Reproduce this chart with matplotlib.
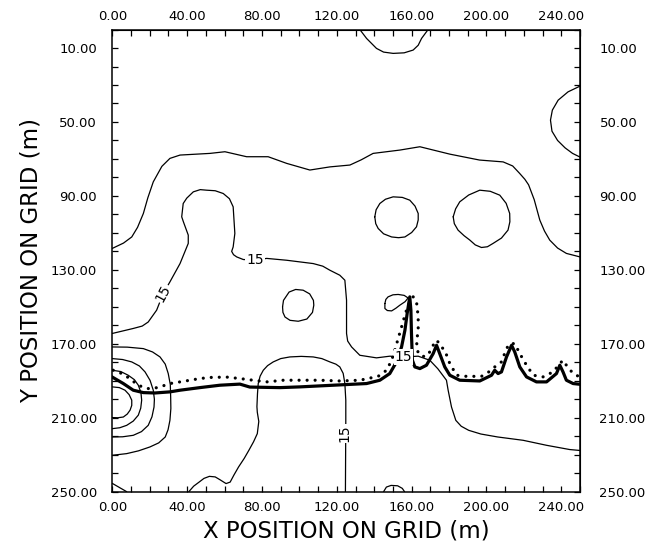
import matplotlib.pyplot as plt
from matplotlib.ticker import FixedLocator, MultipleLocator, FormatStrFormatter

x_ticks = [0, 40, 80, 120, 160, 200, 240]
y_ticks = [10, 50, 90, 130, 170, 210, 250]

# contour lines (x, y in m)
top_dip_x = [132.3, 135.9, 141.2, 145.0, 150.1, 156.0, 160.8, 163.5, 165.3, 168.8]
top_dip_y = [0.0, 4.8, 10.2, 12.2, 12.9, 12.6, 11.1, 8.5, 4.8, 0.0]

right_arc_x = [250.0, 243.6, 238.3, 235.2, 234.2, 235.0, 238.0, 242.0, 246.0, 250.0]
right_arc_y = [30.6, 33.7, 38.2, 43.6, 49.0, 55.0, 60.0, 64.0, 67.0, 69.0]

upper_x = [0.0, 6.0, 10.4, 13.5, 16.6, 19.0, 21.9, 26.5, 30.8, 36.2, 52.2, 60.2, 71.8,
           83.3, 93.2, 105.6, 116.3, 127.0, 133.0, 139.4, 153.7, 164.4, 180.4, 196.3,
           208.9, 214.0, 217.7, 220.5, 222.5, 225.5, 228.5, 231.0, 233.8, 238.0, 242.7,
           250.0]
upper_y = [118.4, 115.5, 112.2, 107.0, 99.5, 91.0, 82.4, 74.0, 69.7, 67.9, 67.0, 66.1,
           68.8, 68.8, 72.4, 76.0, 74.3, 73.3, 70.5, 67.0, 65.2, 63.4, 67.4, 70.6, 71.6,
           73.8, 77.8, 81.0, 84.0, 92.0, 103.1, 109.0, 113.9, 118.2, 121.1, 123.0]

mid_x = [0.0, 11.2, 16.0, 19.2, 23.7, 27.2, 30.8, 36.2, 40.6, 40.6, 38.0, 37.1, 37.9,
         39.8, 43.3, 47.0, 50.4, 55.0, 59.3, 62.6, 64.6, 65.5, 64.6, 63.8, 64.8, 66.5,
         70.0, 76.2, 82.5, 93.2, 100.3, 107.4, 112.5, 116.3, 121.6, 124.3, 125.2, 125.2,
         125.8, 127.9, 132.3, 141.2, 148.3, 155.5, 163.5, 169.7, 174.0, 178.6, 179.5,
         181.3, 183.6, 186.5, 190.5, 197.0, 206.0, 219.6, 232.1, 244.5, 250.0]
mid_y = [164.4, 161.7, 160.4, 158.2, 151.8, 142.8, 136.5, 126.6, 115.7, 111.2, 104.0,
         101.3, 94.1, 91.2, 87.8, 86.6, 86.9, 87.2, 88.7, 91.5, 95.9, 110.3, 117.6, 120.0,
         121.8, 123.0, 124.4, 124.8, 123.8, 124.8, 125.7, 126.6, 128.0, 130.2, 132.9,
         135.6, 146.4, 164.4, 168.5, 171.7, 176.2, 177.6, 176.7, 177.1, 176.7, 178.9,
         183.5, 189.7, 195.1, 204.2, 211.4, 214.6, 216.8, 218.8, 220.4, 222.2, 224.9,
         227.2, 227.7]

loop1_x = [91.0, 91.5, 94.5, 98.0, 102.0, 105.5, 107.5, 107.7, 107.0, 104.0, 99.4, 95.0,
           92.3, 91.2, 91.0]
loop1_y = [150.0, 146.5, 142.0, 140.6, 141.0, 143.0, 146.5, 149.1, 153.0, 156.6, 157.8,
           157.3, 155.5, 153.0, 150.0]

loop2_x = [140.3, 141.0, 143.0, 146.0, 150.1, 155.0, 159.0, 161.8, 163.5, 163.5, 162.6,
           160.0, 156.4, 153.0, 149.3, 145.0, 142.1, 140.8, 140.3]
loop2_y = [101.3, 97.5, 94.1, 91.8, 90.5, 90.8, 92.3, 95.5, 99.5, 103.0, 106.7, 109.8,
           112.2, 112.6, 112.2, 110.5, 107.6, 105.0, 101.3]

loop3_x = [182.2, 183.5, 185.7, 190.5, 196.4, 202.0, 207.1, 210.5, 212.4, 212.5, 211.5,
           208.0, 203.5, 200.5, 197.3, 194.0, 191.1, 188.0, 184.8, 182.8, 182.2]
loop3_y = [101.3, 97.0, 93.2, 89.5, 86.9, 87.5, 89.6, 94.0, 99.5, 104.0, 108.5, 112.8,
           115.7, 117.5, 117.9, 116.5, 113.9, 111.5, 108.5, 105.0, 101.3]

loop4_x = [145.7, 146.2, 147.4, 150.0, 152.8, 156.0, 158.1, 156.5, 153.7, 151.5, 149.3,
           147.0, 145.7, 145.7]
loop4_y = [148.2, 146.0, 144.6, 143.5, 143.3, 143.8, 145.2, 147.2, 149.1, 150.8, 152.2,
           152.0, 150.9, 148.2]

ring1_x = [0.0, 8.0, 16.6, 21.5, 25.5, 28.3, 29.9, 31.0, 31.2, 31.3, 30.8, 29.8, 28.3,
           24.8, 20.1, 14.0, 7.7, 0.0]
ring1_y = [171.7, 171.8, 172.6, 174.4, 177.1, 181.0, 186.1, 192.0, 198.8, 205.0, 211.4,
           216.5, 220.4, 223.6, 225.8, 227.9, 229.4, 230.3]
ring2_x = [0.0, 5.5, 10.4, 14.5, 17.5, 20.2, 21.9, 22.5, 22.3, 21.2, 19.2, 15.6, 11.2,
           5.5, 0.0]
ring2_y = [178.0, 178.5, 179.8, 182.0, 185.2, 189.8, 195.1, 200.0, 204.2, 209.5, 214.1,
           217.5, 219.5, 220.3, 220.4]
ring3_x = [0.0, 4.5, 8.5, 11.8, 13.9, 15.3, 15.7, 15.2, 13.9, 11.2, 7.7, 4.0, 0.0]
ring3_y = [184.3, 185.0, 187.0, 189.4, 192.4, 196.3, 200.5, 204.8, 208.6, 211.8, 214.1,
           215.4, 215.9]
ring4_x = [0.0, 3.8, 6.8, 9.0, 10.4, 10.4, 9.5, 8.0, 5.9, 3.0, 0.0]
ring4_y = [193.3, 193.7, 195.1, 197.5, 200.5, 203.3, 205.9, 208.0, 209.6, 210.0, 209.9]

corner_x = [0.0, 7.7]
corner_y = [245.5, 250.0]

lower_x = [40.9, 43.5, 46.4, 49.0, 51.9, 55.0, 57.5, 60.8, 63.0, 65.0, 67.5, 70.5, 73.0,
           75.5, 77.5, 78.3, 77.5, 77.3, 77.6, 78.0, 79.0, 80.7, 83.0, 86.0, 90.0, 94.9,
           101.0, 107.4, 112.0, 116.3, 119.5, 121.6, 123.4, 124.3, 124.8, 124.8, 124.6]
lower_y = [250.0, 247.0, 244.8, 242.8, 241.7, 242.0, 243.5, 245.6, 244.8, 241.0, 236.6,
           232.0, 227.6, 223.0, 218.6, 212.0, 207.0, 204.0, 197.0, 191.5, 187.5, 184.3,
           181.8, 179.8, 178.0, 177.1, 176.8, 177.1, 178.0, 179.8, 181.0, 182.5, 186.0,
           191.5, 200.5, 211.4, 250.0]

dome_x = [145.0, 146.5, 149.0, 152.5, 155.0, 156.2]
dome_y = [250.0, 247.5, 246.6, 246.8, 248.2, 250.0]

# bold solid curve
solid_x = [0.0, 5.9, 11.2, 16.6, 22.8, 30.8, 36.2, 46.8, 57.5, 68.2, 73.5, 89.6, 100.3,
           118.1, 135.9, 143.0, 148.3, 151.9, 154.6, 156.4, 157.6, 159.0, 159.6, 159.9,
           160.4, 161.7, 164.4, 167.9, 171.5, 173.3, 175.0, 177.7, 180.4, 185.7, 196.4,
           202.7, 204.4, 206.2, 208.0, 210.7, 213.4, 215.1, 217.8, 221.4, 226.7, 232.1,
           237.4, 239.2, 240.9, 242.7, 246.3, 250.0]
solid_y = [188.0, 191.5, 195.1, 196.4, 196.6, 196.0, 195.1, 193.7, 192.4, 191.8, 193.4,
           193.7, 193.3, 192.4, 191.5, 189.7, 186.1, 179.8, 171.7, 162.7, 153.6, 144.6,
           151.8, 164.4, 178.9, 182.5, 183.4, 181.6, 175.3, 170.8, 175.3, 182.5, 187.0,
           189.7, 190.1, 187.0, 184.3, 186.1, 185.2, 177.1, 170.8, 174.4, 182.5, 187.9,
           190.6, 190.6, 186.1, 181.6, 185.2, 189.7, 191.5, 191.9]

# dotted curve
dot_x = [0.5, 3.2, 6.8, 10.4, 13.9, 18.4, 21.9, 26.4, 30.8, 36.2, 41.5, 46.8, 52.2, 61.1,
         68.2, 75.3, 82.5, 91.4, 100.3, 111.0, 121.6, 132.3, 142.1, 146.6, 149.3, 151.0,
         152.8, 154.6, 156.4, 158.1, 160.8, 162.6, 163.5, 163.5, 162.6, 163.5, 167.0,
         169.7, 172.4, 173.6, 175.0, 177.7, 180.4, 184.0, 189.3, 197.3, 202.7, 205.3,
         208.0, 210.7, 212.4, 215.1, 217.8, 221.4, 225.0, 230.2, 235.6, 239.2, 240.9,
         242.7, 246.3, 249.8]
dot_y = [184.3, 185.2, 187.0, 189.7, 192.4, 194.2, 194.2, 193.0, 191.5, 190.6, 189.7,
         188.8, 188.2, 188.0, 188.8, 189.7, 190.6, 189.7, 189.7, 189.7, 190.1, 189.7,
         187.6, 184.3, 178.9, 173.5, 167.1, 160.9, 154.5, 149.1, 144.6, 147.3, 155.5,
         162.7, 169.0, 175.3, 177.1, 174.4, 169.0, 168.1, 170.8, 173.5, 180.7, 187.0,
         187.6, 187.6, 184.3, 181.6, 179.8, 172.6, 169.9, 169.9, 175.3, 181.6, 187.0,
         187.9, 185.2, 180.7, 178.9, 181.6, 186.1, 187.9]

# "15" labels: x, y, rotation
label_x = [27.2, 76.2, 155.5, 124.3]
label_y = [142.8, 124.8, 177.1, 218.4]
label_rot = [62, 0, 0, 90]

fig = plt.figure(figsize=(6.51, 5.45), dpi=100)
ax = fig.add_axes([0.1725, 0.0978, 0.7185, 0.848])

thin = [(top_dip_x, top_dip_y), (right_arc_x, right_arc_y), (upper_x, upper_y),
        (mid_x, mid_y), (loop1_x, loop1_y), (loop2_x, loop2_y), (loop3_x, loop3_y),
        (loop4_x, loop4_y), (ring1_x, ring1_y), (ring2_x, ring2_y), (ring3_x, ring3_y),
        (ring4_x, ring4_y), (corner_x, corner_y), (lower_x, lower_y), (dome_x, dome_y)]
for xs, ys in thin:
    ax.plot(xs, ys, color='black', lw=0.9, solid_joinstyle='round', solid_capstyle='round')

ax.plot(solid_x, solid_y, color='black', lw=2.3, solid_joinstyle='round', zorder=3)
ax.plot(dot_x, dot_y, color='black', lw=2.3, linestyle=(0, (0.01, 2.5)),
        dash_capstyle='round', zorder=3)

for lx, ly, r in zip(label_x, label_y, label_rot):
    ax.text(lx, ly, '15', fontsize=10, rotation=r, ha='center', va='center',
            rotation_mode='anchor', zorder=4,
            bbox=dict(facecolor='white', edgecolor='none', pad=0.6))

ax.set_xlim(0, 250)
ax.set_ylim(250, 0)

for sp in ax.spines.values():
    sp.set_linewidth(1.1)

ax.xaxis.set_major_locator(FixedLocator(x_ticks))
ax.yaxis.set_major_locator(FixedLocator(y_ticks))
ax.xaxis.set_minor_locator(MultipleLocator(10))
ax.yaxis.set_minor_locator(MultipleLocator(10))
ax.xaxis.set_major_formatter(FormatStrFormatter('%.2f'))
ax.yaxis.set_major_formatter(FormatStrFormatter('%.2f'))
ax.tick_params(which='both', direction='in', length=4.5, width=0.9, labelsize=9.5)
ax.tick_params(axis='x', pad=7)
ax.tick_params(axis='y', pad=11)

top = ax.secondary_xaxis('top')
top.xaxis.set_major_locator(FixedLocator(x_ticks))
top.xaxis.set_minor_locator(MultipleLocator(10))
top.xaxis.set_major_formatter(FormatStrFormatter('%.2f'))
top.tick_params(which='both', direction='in', length=4.5, width=0.9, labelsize=9.5, pad=5)

right = ax.secondary_yaxis('right')
right.yaxis.set_major_locator(FixedLocator(y_ticks))
right.yaxis.set_minor_locator(MultipleLocator(10))
right.yaxis.set_major_formatter(FormatStrFormatter('%.2f'))
right.tick_params(which='both', direction='in', length=4.5, width=0.9, labelsize=9.5, pad=14)

ax.set_xlabel('X POSITION ON GRID (m)', fontsize=16.5, labelpad=4)
ax.set_ylabel('Y POSITION ON GRID (m)', fontsize=16.5, labelpad=6)

fig.savefig('out.png', dpi=100)
